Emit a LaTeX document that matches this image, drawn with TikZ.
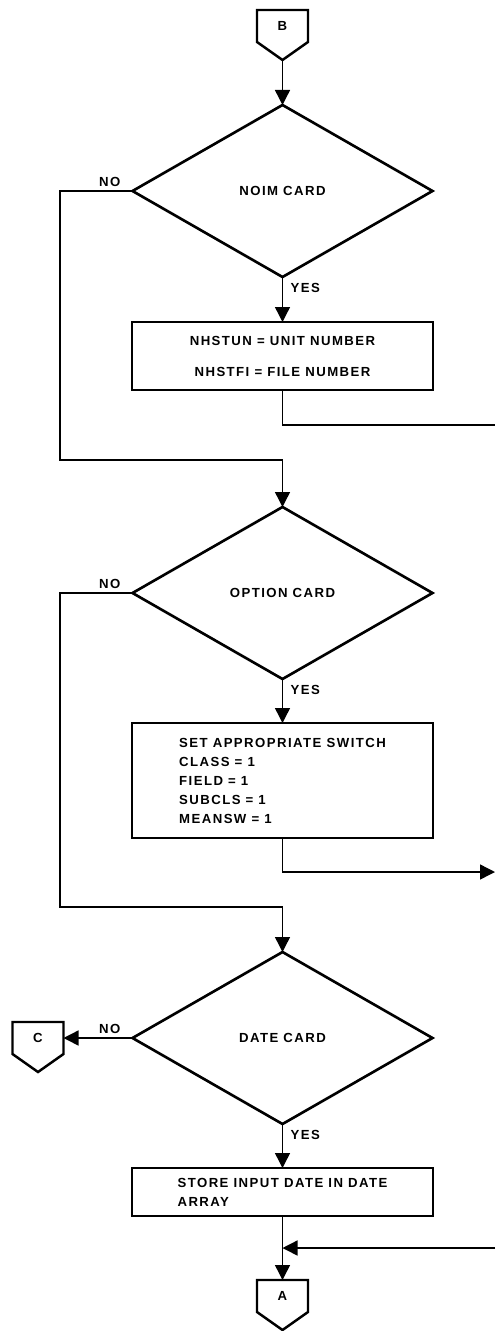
\documentclass[tikz,border=0pt]{standalone}
\usepackage{fontspec}
\setmainfont{Liberation Sans}[LetterSpace=11]
\usetikzlibrary{shapes.geometric, arrows.meta, positioning}
\newcommand{\chartfont}{\fontsize{7.5}{10.8}\selectfont\bfseries}
\tikzstyle{decision} = [diamond, minimum width=6cm, minimum height=3.44cm, inner sep=0pt, outer sep=0pt, text centered, draw=black, line width=1.5pt]
\tikzstyle{process} = [rectangle, minimum width=6.02cm, align=left, outer sep=0pt, draw=black, line width=1.4pt]
\tikzstyle{offpage} = [rectangle, minimum width=1.02cm, minimum height=0.64cm, inner sep=0pt, outer sep=0pt]
\tikzstyle{outline} = [line width=1.4pt, line join=miter]
\tikzstyle{arrow} = [line width=0.8pt, -{Triangle[width=3mm, length=3mm]}]
\tikzstyle{line} = [line width=0.8pt]
\tikzstyle{tag} = [inner sep=1pt]

\begin{document}
\begin{tikzpicture}[node distance=0.9cm, every node/.style={font=\chartfont}]
    \useasboundingbox (0,0) rectangle (9.9,-26.62);
    \node (b) [offpage] at (5.65,-0.52) {B};
    \coordinate (btip) at ([yshift=-0.36cm]b.south);
    \node (d1) [decision, below=of btip] {NOIM CARD};
    \node (p1) [process, align=center, minimum height=1.36cm, below=of d1] {NHSTUN = UNIT NUMBER\\[6.8pt]NHSTFI = FILE NUMBER};
    \node (d2) [decision, below=2.34cm of p1] {OPTION CARD};
    \node (p2) [process, minimum height=2.3cm, below=0.88cm of d2] {SET APPROPRIATE SWITCH\\CLASS = 1\\FIELD = 1\\SUBCLS = 1\\MEANSW = 1};
    \node (d3) [decision, below=2.28cm of p2] {DATE CARD};
    \node (p3) [process, minimum height=0.96cm, below=0.88cm of d3] {STORE INPUT DATE IN DATE\\ARRAY};
    \node (a) [offpage, below=1.28cm of p3] {A};
    \node (c) [offpage, left=1.38cm of d3] {C};
    \coordinate (atip) at ([yshift=-0.36cm]a.south);
    \coordinate (ctip) at ([yshift=-0.36cm]c.south);

    % off-page connector outlines
    \draw [outline] (b.south west) -- (b.north west) -- (b.north east) -- (b.south east) -- (btip) -- cycle;
    \draw [outline] (a.south west) -- (a.north west) -- (a.north east) -- (a.south east) -- (atip) -- cycle;
    \draw [outline] (c.south west) -- (c.north west) -- (c.north east) -- (c.south east) -- (ctip) -- cycle;

    \node (no1) [tag, above left=0.05cm and 0.2cm of d1.west] {NO};
    \node (yes1) [tag, below right=0.08cm and 0.12cm of d1.south] {YES};
    \node (no2) [tag, above left=0.05cm and 0.2cm of d2.west] {NO};
    \node (yes2) [tag, below right=0.08cm and 0.12cm of d2.south] {YES};
    \node (no3) [tag, above left=0.05cm and 0.2cm of d3.west] {NO};
    \node (yes3) [tag, below right=0.08cm and 0.12cm of d3.south] {YES};

    \coordinate (j1) at (1.2,-9.2);
    \coordinate (j2) at (1.2,-18.14);
    \coordinate (e1) at (9.9,-8.5);
    \coordinate (e2) at (9.9,-17.44);
    \coordinate (e3) at (9.9,-24.96);

    \draw [arrow] (btip) -- (d1);
    \draw [arrow] (d1) -- (p1);
    \draw [arrow] (d2) -- (p2);
    \draw [arrow] (d3) -- (p3);
    \draw [arrow] (p3) -- (a);
    \draw [arrow] (d1.west) -| (j1) -| (d2.north);
    \draw [arrow] (d2.west) -| (j2) -| (d3.north);
    \draw [arrow] (d3.west) -- (c.east);
    \draw [line] (p1.south) |- (e1);
    \draw [arrow] (p2.south) |- (e2);
    \draw [arrow] (e3) -- (e3 -| p3.south);
\end{tikzpicture}
\end{document}
